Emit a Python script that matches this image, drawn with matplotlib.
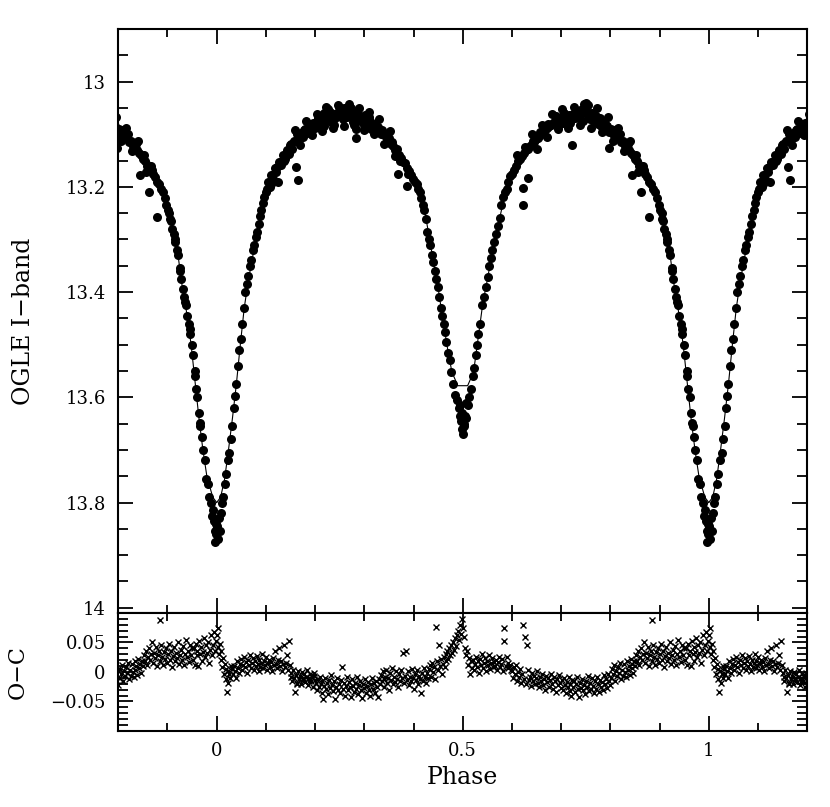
import matplotlib.pyplot as plt
import numpy as np
from matplotlib.ticker import MultipleLocator, FixedLocator, FuncFormatter

plt.rcParams['font.family'] = 'DejaVu Serif'

# Light curve points, phase folded into [0, 1)
lc_phase = [
    0.000, 0.002, 0.004, 0.006, 0.008, 0.010, 0.013, 0.016, 0.019, 0.022,
    0.026, 0.029, 0.032, 0.035, 0.038, 0.040, 0.044, 0.046, 0.049, 0.052,
    0.055, 0.058, 0.061, 0.064, 0.067, 0.070, 0.073, 0.076, 0.079, 0.082,
    0.085, 0.088, 0.091, 0.094, 0.097, 0.100, 0.996, 0.999, 0.998, 0.993,
    0.102, 0.105, 0.108, 0.111, 0.114, 0.118, 0.121, 0.125, 0.127, 0.131,
    0.134, 0.138, 0.142, 0.146, 0.149, 0.153, 0.157, 0.162, 0.165, 0.168,
    0.172, 0.176, 0.180, 0.184, 0.188, 0.192, 0.196, 0.200, 0.204, 0.208,
    0.212, 0.216, 0.222, 0.225, 0.229, 0.233, 0.237, 0.241, 0.246, 0.249,
    0.253, 0.257, 0.261, 0.265, 0.269, 0.272, 0.276, 0.280, 0.283, 0.287,
    0.291, 0.295, 0.299, 0.303, 0.307, 0.311, 0.315, 0.319, 0.323, 0.327,
    0.331, 0.335, 0.339, 0.343, 0.347, 0.351, 0.355, 0.359, 0.363, 0.367,
    0.371, 0.375, 0.379, 0.383, 0.387, 0.391, 0.395, 0.399, 0.284, 0.369,
    0.386, 0.110, 0.123, 0.136, 0.151, 0.164, 0.178, 0.190, 0.206, 0.219,
    0.231, 0.244, 0.255, 0.263, 0.274, 0.285, 0.297, 0.309, 0.321, 0.333,
    0.345, 0.357, 0.373, 0.389, 0.259, 0.278, 0.239, 0.218, 0.301, 0.313,
    0.160, 0.170, 0.182, 0.194, 0.203, 0.214, 0.226, 0.236, 0.248, 0.258,
    0.268, 0.279, 0.290, 0.300, 0.310, 0.320, 0.330, 0.340, 0.352, 0.362,
    0.403, 0.407, 0.410, 0.413, 0.416, 0.419, 0.422, 0.425, 0.428, 0.431,
    0.434, 0.437, 0.440, 0.443, 0.446, 0.449, 0.452, 0.455, 0.458, 0.461,
    0.464, 0.467, 0.470, 0.474, 0.477, 0.481, 0.485, 0.489, 0.492, 0.495,
    0.497, 0.499, 0.501, 0.503, 0.505, 0.507, 0.510, 0.513, 0.517, 0.520,
    0.523, 0.526, 0.529, 0.532, 0.536, 0.540, 0.543, 0.547, 0.551, 0.554,
    0.557, 0.560, 0.563, 0.567, 0.571, 0.575, 0.578, 0.582, 0.585, 0.589,
    0.592, 0.596, 0.600, 0.622, 0.622, 0.632, 0.498, 0.502, 0.494, 0.506,
    0.604, 0.608, 0.612, 0.616, 0.620, 0.624, 0.628, 0.632, 0.636, 0.640,
    0.644, 0.648, 0.652, 0.656, 0.660, 0.664, 0.668, 0.672, 0.676, 0.680,
    0.684, 0.688, 0.692, 0.696, 0.700, 0.704, 0.708, 0.712, 0.716, 0.720,
    0.724, 0.728, 0.732, 0.736, 0.740, 0.744, 0.748, 0.751, 0.754, 0.758,
    0.762, 0.766, 0.770, 0.774, 0.778, 0.782, 0.786, 0.790, 0.794, 0.798,
    0.802, 0.806, 0.810, 0.814, 0.818, 0.822, 0.826, 0.830, 0.834, 0.838,
    0.842, 0.846, 0.850, 0.854, 0.858, 0.862, 0.866, 0.870, 0.874, 0.878,
    0.882, 0.886, 0.890, 0.894, 0.898, 0.723, 0.798, 0.845, 0.862, 0.879,
    0.754, 0.610, 0.626, 0.642, 0.658, 0.674, 0.690, 0.706, 0.718, 0.730,
    0.742, 0.756, 0.768, 0.780, 0.792, 0.808, 0.820, 0.836, 0.852, 0.868,
    0.640, 0.650, 0.662, 0.672, 0.682, 0.694, 0.702, 0.714, 0.726, 0.738,
    0.746, 0.760, 0.772, 0.784, 0.796, 0.806, 0.816, 0.828, 0.840, 0.856,
    0.901, 0.904, 0.907, 0.910, 0.913, 0.916, 0.919, 0.922, 0.925, 0.928,
    0.931, 0.934, 0.937, 0.940, 0.943, 0.946, 0.949, 0.952, 0.955, 0.958,
    0.961, 0.964, 0.967, 0.970, 0.973, 0.976, 0.979, 0.982, 0.985, 0.988,
    0.991, 0.994, 0.997, 0.905, 0.915, 0.926, 0.936, 0.945, 0.956, 0.966,
]
lc_mag = [
    13.845, 13.870, 13.830, 13.855, 13.820, 13.800, 13.790, 13.765, 13.745, 13.720,
    13.705, 13.680, 13.655, 13.620, 13.597, 13.575, 13.540, 13.510, 13.490, 13.460,
    13.430, 13.400, 13.385, 13.370, 13.350, 13.340, 13.320, 13.310, 13.295, 13.285,
    13.270, 13.255, 13.245, 13.230, 13.220, 13.210, 13.875, 13.840, 13.860, 13.815,
    13.205, 13.190, 13.200, 13.178, 13.185, 13.165, 13.172, 13.190, 13.152, 13.158,
    13.140, 13.148, 13.130, 13.138, 13.120, 13.128, 13.112, 13.163, 13.187, 13.108,
    13.098, 13.106, 13.090, 13.098, 13.085, 13.092, 13.078, 13.088, 13.075, 13.083,
    13.070, 13.078, 13.048, 13.072, 13.065, 13.076, 13.062, 13.070, 13.044, 13.066,
    13.058, 13.072, 13.060, 13.068, 13.055, 13.050, 13.064, 13.070, 13.090, 13.062,
    13.075, 13.068, 13.082, 13.072, 13.080, 13.075, 13.088, 13.082, 13.090, 13.086,
    13.095, 13.092, 13.102, 13.100, 13.112, 13.108, 13.118, 13.122, 13.130, 13.128,
    13.140, 13.145, 13.152, 13.155, 13.165, 13.170, 13.178, 13.185, 13.108, 13.175,
    13.198, 13.195, 13.162, 13.150, 13.118, 13.100, 13.092, 13.080, 13.070, 13.060,
    13.058, 13.060, 13.066, 13.052, 13.058, 13.070, 13.074, 13.068, 13.080, 13.100,
    13.104, 13.115, 13.150, 13.175, 13.050, 13.076, 13.082, 13.084, 13.064, 13.090,
    13.092, 13.120, 13.075, 13.102, 13.062, 13.094, 13.052, 13.088, 13.048, 13.085,
    13.042, 13.082, 13.050, 13.092, 13.058, 13.100, 13.072, 13.118, 13.094, 13.142,
    13.190, 13.195, 13.205, 13.210, 13.222, 13.235, 13.245, 13.262, 13.285, 13.300,
    13.310, 13.330, 13.343, 13.360, 13.375, 13.390, 13.410, 13.430, 13.445, 13.460,
    13.475, 13.495, 13.515, 13.530, 13.552, 13.575, 13.595, 13.605, 13.620, 13.635,
    13.645, 13.660, 13.670, 13.650, 13.635, 13.610, 13.615, 13.600, 13.585, 13.560,
    13.545, 13.520, 13.500, 13.480, 13.460, 13.425, 13.410, 13.390, 13.372, 13.350,
    13.335, 13.320, 13.305, 13.290, 13.275, 13.260, 13.235, 13.220, 13.210, 13.205,
    13.190, 13.180, 13.175, 13.203, 13.235, 13.184, 13.630, 13.655, 13.615, 13.640,
    13.168, 13.160, 13.150, 13.148, 13.142, 13.135, 13.130, 13.128, 13.122, 13.118,
    13.115, 13.110, 13.108, 13.104, 13.100, 13.098, 13.092, 13.088, 13.085, 13.082,
    13.078, 13.075, 13.072, 13.083, 13.070, 13.078, 13.068, 13.074, 13.064, 13.072,
    13.062, 13.070, 13.058, 13.068, 13.060, 13.075, 13.055, 13.040, 13.066, 13.072,
    13.060, 13.075, 13.065, 13.080, 13.070, 13.085, 13.078, 13.090, 13.085, 13.095,
    13.090, 13.100, 13.098, 13.108, 13.105, 13.115, 13.112, 13.122, 13.120, 13.130,
    13.135, 13.140, 13.148, 13.150, 13.160, 13.168, 13.160, 13.175, 13.182, 13.190,
    13.195, 13.205, 13.210, 13.222, 13.235, 13.120, 13.127, 13.178, 13.210, 13.257,
    13.044, 13.140, 13.125, 13.112, 13.095, 13.080, 13.066, 13.060, 13.078, 13.066,
    13.052, 13.060, 13.072, 13.078, 13.082, 13.092, 13.100, 13.118, 13.140, 13.168,
    13.100, 13.128, 13.082, 13.105, 13.062, 13.090, 13.052, 13.088, 13.048, 13.082,
    13.042, 13.088, 13.050, 13.095, 13.068, 13.112, 13.088, 13.132, 13.112, 13.172,
    13.245, 13.250, 13.265, 13.280, 13.290, 13.305, 13.320, 13.330, 13.355, 13.375,
    13.395, 13.410, 13.425, 13.445, 13.460, 13.480, 13.500, 13.520, 13.550, 13.585,
    13.600, 13.630, 13.655, 13.675, 13.700, 13.720, 13.755, 13.765, 13.790, 13.800,
    13.825, 13.835, 13.855, 13.262, 13.300, 13.360, 13.418, 13.470, 13.560, 13.648,
]

# Model light curve
model_phase = [
    0.000, 0.008, 0.016, 0.024, 0.032, 0.040, 0.048, 0.056, 0.064, 0.072,
    0.080, 0.090, 0.100, 0.115, 0.130, 0.150, 0.175, 0.200, 0.250, 0.300,
    0.330, 0.365, 0.400, 0.420, 0.430, 0.440, 0.450, 0.460, 0.470, 0.478,
    0.490, 0.510, 0.522, 0.531, 0.541, 0.551, 0.561, 0.575, 0.588, 0.615,
    0.656, 0.700, 0.757, 0.818, 0.866, 0.893, 0.910, 0.920, 0.930, 0.940,
    0.948, 0.956, 0.964, 0.972, 0.980, 0.992, 1.000,
]
model_mag = [
    13.800, 13.790, 13.756, 13.700, 13.640, 13.575, 13.500, 13.430, 13.380, 13.338,
    13.300, 13.250, 13.212, 13.170, 13.145, 13.122, 13.100, 13.087, 13.070, 13.074,
    13.089, 13.130, 13.180, 13.232, 13.285, 13.340, 13.392, 13.455, 13.512, 13.552,
    13.578, 13.578, 13.552, 13.490, 13.420, 13.372, 13.318, 13.260, 13.205, 13.146,
    13.108, 13.078, 13.072, 13.100, 13.155, 13.212, 13.275, 13.320, 13.390, 13.445,
    13.500, 13.570, 13.640, 13.700, 13.750, 13.790, 13.800,
]

# O-C residuals, phase folded into [0, 1)
oc_phase = [
    0.001, 0.002, 0.003, 0.005, 0.006, 0.008, 0.009, 0.011, 0.013, 0.014,
    0.016, 0.018, 0.019, 0.021, 0.023, 0.024, 0.026, 0.028, 0.029, 0.884,
    0.031, 0.033, 0.035, 0.037, 0.039, 0.041, 0.043, 0.045, 0.047, 0.049,
    0.051, 0.053, 0.055, 0.057, 0.059, 0.061, 0.063, 0.065, 0.067, 0.069,
    0.071, 0.073, 0.075, 0.077, 0.079, 0.081, 0.083, 0.085, 0.087, 0.089,
    0.091, 0.093, 0.095, 0.097, 0.099, 0.101, 0.103, 0.105, 0.107, 0.109,
    0.111, 0.113, 0.115, 0.117, 0.119, 0.121, 0.123, 0.125, 0.127, 0.129,
    0.131, 0.133, 0.135, 0.137, 0.139, 0.141, 0.143, 0.145, 0.147, 0.149,
    0.151, 0.153, 0.155, 0.157, 0.159, 0.161, 0.163, 0.165, 0.167, 0.169,
    0.171, 0.173, 0.175, 0.177, 0.179, 0.181, 0.183, 0.185, 0.187, 0.189,
    0.191, 0.193, 0.195, 0.197, 0.199, 0.152, 0.164, 0.176, 0.188, 0.198,
    0.201, 0.203, 0.205, 0.207, 0.209, 0.211, 0.213, 0.215, 0.217, 0.219,
    0.221, 0.223, 0.225, 0.227, 0.229, 0.231, 0.233, 0.235, 0.237, 0.239,
    0.241, 0.243, 0.245, 0.247, 0.249, 0.251, 0.253, 0.255, 0.257, 0.259,
    0.261, 0.263, 0.265, 0.267, 0.269, 0.271, 0.273, 0.275, 0.277, 0.279,
    0.281, 0.283, 0.285, 0.287, 0.289, 0.291, 0.293, 0.295, 0.297, 0.299,
    0.301, 0.303, 0.305, 0.307, 0.309, 0.311, 0.313, 0.315, 0.317, 0.319,
    0.321, 0.323, 0.325, 0.327, 0.329,
    0.331, 0.333, 0.335, 0.337, 0.339, 0.341, 0.343, 0.345, 0.347, 0.349,
    0.351, 0.353, 0.355, 0.357, 0.359, 0.361, 0.363, 0.365, 0.367, 0.369,
    0.371, 0.373, 0.375, 0.377, 0.379, 0.381, 0.383, 0.385, 0.387, 0.389,
    0.391, 0.393, 0.395, 0.397, 0.399, 0.401, 0.403, 0.405, 0.407, 0.409,
    0.411, 0.413, 0.415, 0.417, 0.419, 0.421, 0.423, 0.425, 0.427, 0.429,
    0.431, 0.433, 0.435, 0.437, 0.439, 0.441, 0.443, 0.445, 0.447, 0.449,
    0.451, 0.453, 0.455, 0.457, 0.459, 0.461, 0.463, 0.465, 0.467, 0.469,
    0.471, 0.473, 0.475, 0.477, 0.479, 0.481, 0.483, 0.485, 0.487, 0.489,
    0.491, 0.493, 0.495, 0.497, 0.499, 0.500, 0.502, 0.504, 0.506, 0.508,
    0.510, 0.512, 0.514, 0.516, 0.518,
    0.521, 0.523, 0.525, 0.527, 0.529, 0.531, 0.533, 0.535, 0.537, 0.539,
    0.541, 0.543, 0.545, 0.547, 0.549, 0.551, 0.553, 0.555, 0.557, 0.559,
    0.561, 0.563, 0.565, 0.567, 0.569, 0.571, 0.573, 0.575, 0.577, 0.579,
    0.581, 0.583, 0.584, 0.587, 0.589, 0.591, 0.593, 0.595, 0.597, 0.599,
    0.601, 0.603, 0.605, 0.607, 0.609, 0.611, 0.613, 0.615, 0.617, 0.619,
    0.621, 0.623, 0.625, 0.627, 0.629, 0.631, 0.633, 0.635, 0.637, 0.639,
    0.641, 0.643, 0.645, 0.647, 0.649, 0.651, 0.653, 0.655, 0.657, 0.659,
    0.661, 0.663, 0.665, 0.667, 0.669, 0.671, 0.673, 0.675, 0.677, 0.679,
    0.681, 0.683, 0.685, 0.687, 0.689, 0.691, 0.693, 0.695, 0.697, 0.699,
    0.701, 0.703, 0.705, 0.707, 0.709, 0.711, 0.713, 0.715, 0.717, 0.719,
    0.721, 0.723, 0.725, 0.727, 0.729, 0.731, 0.733, 0.735, 0.737, 0.739,
    0.741, 0.743, 0.745, 0.747, 0.749, 0.751, 0.753, 0.755, 0.757, 0.759,
    0.761, 0.763, 0.765, 0.767, 0.769, 0.771, 0.773, 0.775, 0.777, 0.779,
    0.781, 0.783, 0.785, 0.787, 0.789, 0.791, 0.793, 0.795, 0.797, 0.799,
    0.801, 0.803, 0.805, 0.807, 0.809, 0.811, 0.813, 0.815, 0.817, 0.819,
    0.821, 0.823, 0.825, 0.827, 0.829, 0.831, 0.833, 0.835, 0.837, 0.839,
    0.841, 0.843, 0.845, 0.847, 0.849,
    0.851, 0.853, 0.855, 0.857, 0.859, 0.861, 0.863, 0.865, 0.867, 0.869,
    0.871, 0.873, 0.875, 0.877, 0.879, 0.881, 0.883, 0.885, 0.887, 0.889,
    0.891, 0.893, 0.895, 0.897, 0.899, 0.901, 0.903, 0.905, 0.907, 0.909,
    0.911, 0.913, 0.915, 0.917, 0.919, 0.921, 0.923, 0.925, 0.927, 0.929,
    0.931, 0.933, 0.935, 0.937, 0.939, 0.941, 0.943, 0.945, 0.947, 0.949,
    0.951, 0.953, 0.955, 0.957, 0.959, 0.961, 0.963, 0.965, 0.967, 0.969,
    0.971, 0.973, 0.975, 0.977, 0.979, 0.981, 0.983, 0.985, 0.987, 0.989,
    0.991, 0.993, 0.995, 0.997, 0.999,
]
oc_value = [
    0.062, 0.042, 0.074, 0.030, 0.048, 0.020, 0.035, 0.008, 0.024, -0.004,
    0.014, -0.012, 0.005, -0.034, 0.002, -0.018, -0.004, -0.010, 0.010, 0.088,
    0.005, -0.004, 0.010, 0.001, -0.011, 0.018, 0.007, -0.002, 0.014, 0.022,
    0.003, 0.011, 0.026, 0.008, 0.017, -0.001, 0.020, 0.012, 0.029, 0.006,
    0.015, 0.023, 0.004, 0.018, 0.010, 0.027, 0.013, 0.001, 0.021, 0.009,
    0.016, 0.030, 0.007, 0.019, 0.012, 0.025, 0.004, 0.015, 0.021, 0.009,
    0.017, 0.002, 0.024, 0.011, 0.036, 0.014, 0.006, 0.020, 0.040, 0.010,
    0.018, 0.001, 0.013, 0.045, 0.008, 0.016, 0.028, 0.003, 0.052, 0.011,
    -0.002, -0.015, 0.004, -0.010, -0.034, -0.005, -0.018, 0.002, -0.012, -0.007,
    -0.020, 0.000, -0.014, -0.004, -0.017, -0.009, 0.003, -0.022, -0.011, -0.003,
    -0.016, -0.008, -0.025, -0.001, -0.013, -0.008, -0.021, -0.010, -0.015, -0.006,
    -0.018, -0.030, -0.012, -0.026, -0.008, -0.021, -0.035, -0.015, -0.045, -0.024,
    -0.010, -0.029, -0.019, -0.038, -0.013, -0.027, -0.005, -0.022, -0.033, -0.016,
    -0.046, -0.025, -0.011, -0.030, -0.020, -0.036, -0.014, 0.008, -0.028, -0.018,
    -0.040, -0.023, -0.009, -0.031, -0.017, -0.026, -0.042, -0.012, -0.024, -0.034,
    -0.019, -0.028, -0.008, -0.037, -0.022, -0.015, -0.030, -0.044, -0.020, -0.027,
    -0.012, -0.035, -0.024, -0.017, -0.031, -0.040, -0.021, -0.010, -0.028, -0.019,
    -0.036, -0.015, -0.025, -0.042, -0.012,
    -0.020, -0.005, -0.016, 0.002, -0.012, -0.025, -0.008, 0.004, -0.018, -0.010,
    -0.030, -0.002, -0.014, 0.006, -0.021, -0.009, -0.017, 0.001, -0.012, -0.026,
    -0.004, -0.015, 0.003, -0.010, 0.033, -0.019, -0.006, 0.035, -0.013, 0.002,
    -0.022, -0.008, -0.016, 0.005, -0.011, -0.028, -0.003, -0.014, 0.004, -0.020,
    -0.007, -0.012, -0.035, -0.002, -0.016, 0.006, -0.009, -0.018, -0.001, -0.011,
    0.005, 0.012, -0.008, 0.016, 0.000, 0.009, -0.012, 0.077, 0.018, 0.004,
    0.045, 0.010, 0.022, -0.004, 0.014, 0.026, 0.008, 0.030, 0.018, 0.036,
    0.022, 0.040, 0.028, 0.045, 0.032, 0.050, 0.038, 0.058, 0.044, 0.062,
    0.070, 0.055, 0.080, 0.065, 0.090, 0.075, 0.060, 0.040, 0.028, 0.035,
    0.012, 0.024, -0.004, 0.018, 0.006,
    0.020, 0.003, 0.014, 0.026, 0.009, 0.018, -0.002, 0.022, 0.011, 0.030,
    0.006, 0.016, 0.024, 0.001, 0.019, 0.012, 0.028, 0.005, 0.015, 0.023,
    0.008, 0.017, 0.010, 0.021, 0.003, 0.017, 0.026, 0.008, 0.014, 0.022,
    0.002, 0.074, 0.052, 0.010, 0.025, 0.006, 0.015, 0.010, 0.012, 0.004,
    0.002, -0.010, 0.008, -0.004, 0.012, -0.015, 0.000, -0.008, 0.005, -0.018,
    -0.003, 0.080, -0.012, 0.060, -0.020, 0.045, 0.004, -0.014, -0.009, -0.024,
    -0.002, -0.016, -0.007, -0.021, -0.011, 0.001, -0.018, -0.026, -0.008, -0.015,
    -0.003, -0.022, -0.012, -0.030, -0.006, -0.017, -0.010, -0.025, -0.014, -0.004,
    -0.020, -0.028, -0.009, -0.016, -0.034, -0.012, -0.022, -0.005, -0.019, -0.027,
    -0.014, -0.030, -0.010, -0.022, -0.036, -0.017, -0.026, -0.008, -0.032, -0.020,
    -0.040, -0.013, -0.025, -0.016, -0.034, -0.021, -0.009, -0.028, -0.043, -0.018,
    -0.027, -0.012, -0.031, -0.022, -0.038, -0.015, -0.026, -0.006, -0.033, -0.019,
    -0.028, -0.011, -0.024, -0.036, -0.016, -0.029, -0.008, -0.021, -0.034, -0.013,
    -0.025, -0.017, -0.030, -0.005, -0.020, -0.012, -0.027, -0.003, -0.015, -0.022,
    -0.010, 0.005, -0.004, 0.012, -0.015, 0.001, -0.007, 0.009, -0.002, 0.016,
    -0.012, 0.004, -0.006, 0.013, 0.000, -0.009, 0.018, 0.003, 0.010, -0.005,
    0.022, 0.007, 0.014, -0.002, 0.019,
    0.010, 0.028, 0.018, 0.035, 0.012, 0.025, 0.040, 0.020, 0.030, 0.051,
    0.015, 0.032, 0.024, 0.042, 0.010, 0.028, 0.036, 0.019, 0.045, 0.026,
    0.012, 0.034, 0.022, 0.040, 0.016, 0.030, 0.048, 0.020, 0.035, 0.008,
    0.027, 0.042, 0.018, 0.032, 0.024, 0.050, 0.014, 0.029, 0.038, 0.021,
    0.044, 0.011, 0.030, 0.055, 0.026, 0.036, 0.017, 0.046, 0.028, 0.040,
    0.020, 0.040, 0.012, 0.048, 0.028, 0.035, 0.010, 0.052, 0.030, 0.042,
    0.018, 0.034, 0.058, 0.025, 0.045, 0.032, 0.050, 0.015, 0.038, 0.062,
    0.028, 0.046, 0.068, 0.036, 0.052,
]

lc_phase = np.array(lc_phase)
model_phase = np.array(model_phase)
oc_phase = np.array(oc_phase)

fig = plt.figure(figsize=(8.3, 8.07), dpi=100)
ax1 = fig.add_axes([0.1425, 0.2404, 0.830, 0.7237])
ax2 = fig.add_axes([0.1425, 0.0942, 0.830, 0.1462])

# each point is drawn at phase-1, phase and phase+1
for shift in (-1, 0, 1):
    ax1.plot(lc_phase + shift, lc_mag, 'o', color='k', ms=6.5, mew=0)
    ax1.plot(model_phase + shift, model_mag, '-', color='k', lw=0.8)
    ax2.plot(oc_phase + shift, oc_value, 'x', color='k', ms=5, mew=1.0)

ax1.set_xlim(-0.2, 1.2)
ax1.set_ylim(14.01, 12.9)
ax2.set_xlim(-0.2, 1.2)
ax2.set_ylim(-0.1, 0.1)

fmt = FuncFormatter(lambda v, p: f'{v:g}'.replace('-', '\u2212'))

for ax in (ax1, ax2):
    for sp in ax.spines.values():
        sp.set_linewidth(1.5)
    ax.xaxis.set_major_locator(MultipleLocator(0.5))
    ax.xaxis.set_minor_locator(MultipleLocator(0.1))
    ax.tick_params(which='both', direction='in', top=True, right=True,
                   width=1.3, labelsize=13)
    ax.tick_params(axis='x', which='major', length=11, pad=8)
    ax.tick_params(axis='x', which='minor', length=5.5)
    ax.tick_params(axis='y', which='major', length=11, pad=9)
    ax.tick_params(axis='y', which='minor', length=7)
    ax.xaxis.set_major_formatter(fmt)
    ax.yaxis.set_major_formatter(fmt)

ax1.yaxis.set_major_locator(MultipleLocator(0.2))
ax1.yaxis.set_minor_locator(MultipleLocator(0.05))
ax1.tick_params(labelbottom=False)

ax2.yaxis.set_major_locator(FixedLocator([-0.05, 0.0, 0.05]))
ax2.yaxis.set_minor_locator(MultipleLocator(0.01))

ax1.set_ylabel('OGLE I\u2212band', fontsize=17)
ax1.yaxis.set_label_coords(-0.121, 0.5)
ax2.set_ylabel('O\u2212C', fontsize=16)
ax2.yaxis.set_label_coords(-0.13, 0.5)
ax2.set_xlabel('Phase', fontsize=17, labelpad=4)

fig.savefig('out.png', dpi=100)
